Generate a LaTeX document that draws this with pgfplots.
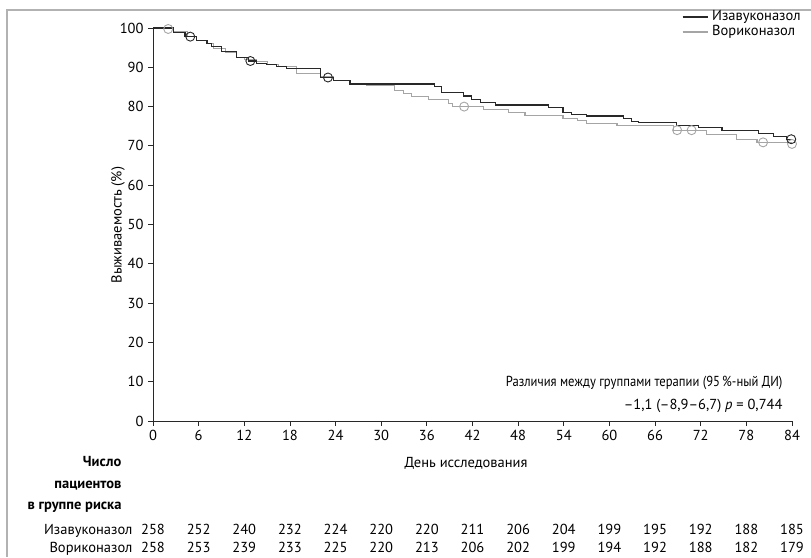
\documentclass[border=0pt]{standalone}
\usepackage{fontspec}
\setmainfont{PT Sans}
\usepackage{pgfplots}
\pgfplotsset{compat=1.18}
\definecolor{cblack}{RGB}{40,40,40}
\definecolor{cgray}{RGB}{165,165,165}
\definecolor{cframe}{RGB}{178,178,178}
\newcommand{\fs}{\fontsize{14.5}{16}\selectfont}
\begin{document}
\begin{tikzpicture}[font=\fs]
\useasboundingbox (0,0) rectangle (811pt,557pt);
\draw[cframe, line width=1.3pt] (7pt,0) -- (7pt,547pt) -- (811pt,547pt);
\begin{axis}[at={(153pt,136pt)}, anchor=south west, scale only axis,
  width=639pt, height=393pt,
  xmin=0, xmax=84, ymin=0, ymax=100,
  axis lines*=left,
  xtick={0,6,...,84}, ytick={0,10,...,100},
  tick align=outside, major tick length=5pt,
  tick style={cblack, line width=0.8pt},
  axis line style={cblack, line width=0.8pt},
  clip=false,
  /pgf/number format/assume math mode=true,
  ticklabel style={font=\fs, text=black},
  xticklabel style={yshift=-1pt},
  yticklabel style={xshift=-1pt},
  legend style={draw=none, fill=none, at={(1.02,1.045)}, anchor=north east,
    font=\fs, inner sep=0pt, row sep=2pt,
    nodes={inner sep=0pt, inner xsep=4pt, text height=10pt, text depth=3pt}},
  legend cell align=left,
  legend image code/.code={\draw[#1] (0pt,0pt) -- (25pt,0pt);},
]
\addlegendimage{cblack, line width=1.1pt}
\addlegendentry{Изавуконазол}
\addlegendimage{cgray, line width=1.1pt}
\addlegendentry{Вориконазол}

% Voriconazole
\addplot[const plot, cgray, line width=1.1pt, forget plot] coordinates {
(0,100) (2.7,99.0) (4.5,97.8) (5.7,96.9) (7.1,96.1) (8.0,94.8) (9.5,93.8)
(11.0,92.5) (12.0,92.0) (13.6,91.5) (15.0,90.8) (16.5,90.3) (18.9,88.4)
(22.0,87.7) (23.7,86.6) (25.9,85.75) (28.1,85.3) (31.8,84.2) (32.9,83.4)
(34.0,82.5) (36.2,81.9) (38.8,80.8) (39.4,80.0) (43.5,79.3) (46.7,78.6)
(48.9,77.7) (53.9,77.0) (55.8,76.4) (57.0,75.6) (61.0,75.1) (68.4,74.0)
(72.8,72.8) (76.7,71.7) (79.4,70.9) (84,70.9)
};
\addplot[only marks, mark=o, mark size=4.5pt, cgray, line width=0.9pt, forget plot] coordinates {
(2.0,99.75) (40.9,80.0) (68.9,74.0) (70.8,74.0) (80.2,70.9) (84,70.5)
};

% Isavuconazole
\addplot[const plot, cblack, line width=1.1pt, forget plot] coordinates {
(0,100) (2.7,98.9) (4.2,97.8) (5.7,96.9) (7.1,96.1) (7.7,95.3) (9.0,94.1)
(11.0,92.5) (12.6,91.6) (13.6,91.0) (14.9,90.6) (16.2,90.2) (17.5,89.7)
(22.0,87.4) (23.7,86.6) (25.9,85.75) (37.0,85.1) (37.9,83.6) (40.8,82.7)
(41.9,81.7) (43.0,81.0) (45.0,80.4) (52.0,79.8) (53.9,78.5) (55.0,78.1)
(57.0,77.6) (61.8,77.0) (62.9,76.3) (63.8,75.9) (68.8,75.3) (71.7,74.6)
(74.8,74.0) (79.6,73.1) (81.6,72.5) (83.3,71.7) (84,71.7)
};
\addplot[only marks, mark=o, mark size=4.5pt, cblack, line width=0.9pt, forget plot] coordinates {
(4.9,97.8) (12.8,91.6) (23.0,87.4) (83.9,71.7)
};
\end{axis}

\node[rotate=90] at (118pt,332pt) {Выживаемость (\%)};
\node[anchor=base] at (466pt,89pt) {День исследования};
\node[anchor=base east, font=\fs\bfseries] at (125pt,90pt) {Число};
\node[anchor=base east, font=\fs\bfseries] at (125pt,69pt) {пациентов};
\node[anchor=base east, font=\fs\bfseries] at (125pt,48pt) {в группе риска};

\node[anchor=base east] at (786pt,170pt) {\scalebox{0.87}[1]{Различия между группами терапии (95\,\%-ный ДИ)}};
\node[anchor=base east] at (786pt,147pt) {–1,1 (–8,9–6,7) \textit{p} = 0,744};

\node[anchor=base east] at (136pt,23pt) {Изавуконазол};
\node[anchor=base east] at (136pt,5pt) {Вориконазол};
\foreach \v [count=\i from 0] in {258,252,240,232,224,220,220,211,206,204,199,195,192,188,185}
  \node[anchor=base] at ({153pt+45.643pt*\i},23pt) {\v};
\foreach \v [count=\i from 0] in {258,253,239,233,225,220,213,206,202,199,194,192,188,182,179}
  \node[anchor=base] at ({153pt+45.643pt*\i},5pt) {\v};
\end{tikzpicture}
\end{document}
